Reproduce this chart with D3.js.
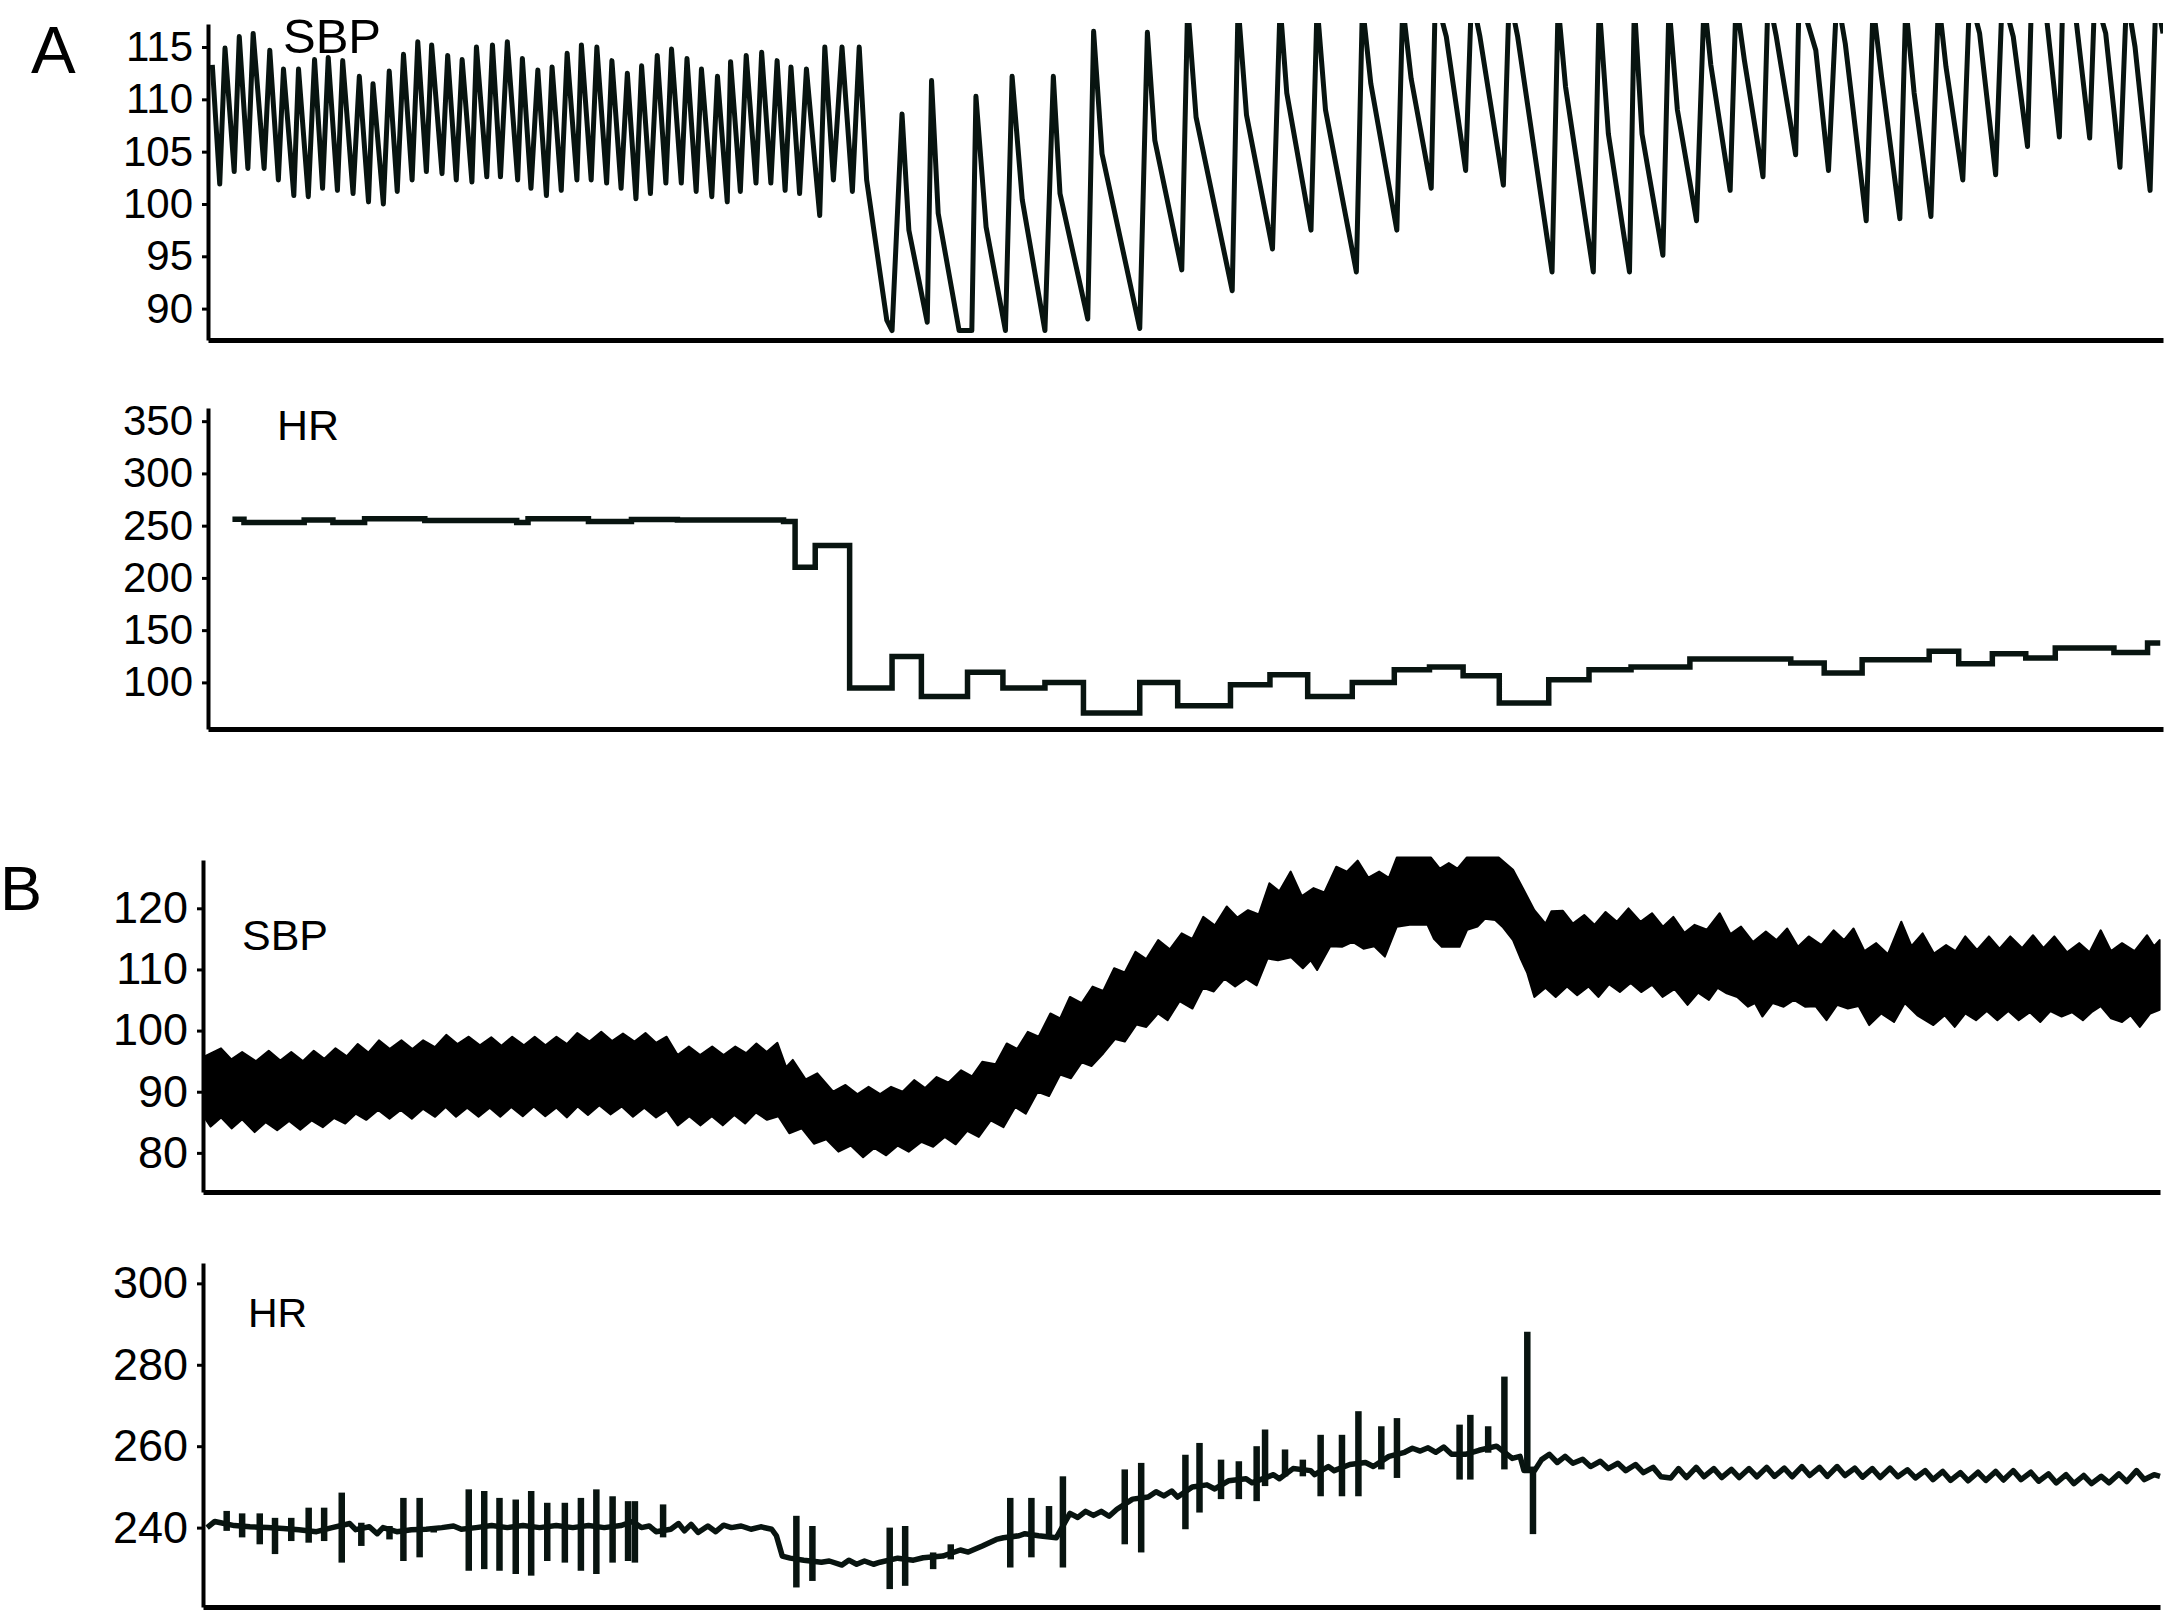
<!DOCTYPE html>
<html><head><meta charset="utf-8">
<script src="https://cdn.jsdelivr.net/npm/d3@7"></script>
<style>
body{margin:0;background:#fff}
svg{display:block}
text{font-family:"Liberation Sans",Arial,Helvetica,sans-serif;fill:#000}
</style>
</head><body>
<svg id="c" width="2167" height="1611"></svg>
<script>
// ---------- tick labels ----------
const aSbpTicks = [90, 95, 100, 105, 110, 115];
const aHrTicks  = [100, 150, 200, 250, 300, 350];
const bSbpTicks = [80, 90, 100, 110, 120];
const bHrTicks  = [240, 260, 280, 300];

// time axis (arbitrary units, no labels in source)
const timeDomain = [0, 1000];

// ---------- Panel A: SBP waveform (mmHg), [time, value] ----------
const aSbp = [[2.2,113.3],[6.0,101.9],[8.7,114.9],[13.4,103.1],[16.0,116.0],[20.4,103.4],[23.1,116.3],[28.7,103.4],[31.6,114.7],[36.0,102.3],[38.6,112.9],[43.9,100.8],[46.3,112.9],[51.3,100.7],[54.5,113.8],[58.6,101.5],[61.5,114.0],[66.2,101.3],[68.9,113.7],[74.2,101.0],[77.4,112.2],[82.1,100.2],[84.4,111.5],[89.7,100.0],[92.7,112.7],[96.8,101.2],[100.0,114.3],[104.4,102.3],[107.3,115.5],[111.7,103.1],[114.4,115.2],[119.7,102.9],[122.6,114.2],[127.0,102.3],[130.0,113.8],[135.0,102.1],[137.3,115.0],[142.6,102.6],[145.5,115.2],[149.6,102.6],[153.1,115.5],[158.4,102.3],[160.8,113.9],[165.2,101.5],[168.7,112.8],[173.1,100.8],[176.0,113.1],[180.7,101.3],[183.7,114.4],[188.7,102.3],[191.0,115.2],[196.0,102.3],[198.9,115.0],[203.9,102.0],[206.6,113.7],[211.3,101.5],[214.5,112.5],[218.9,100.5],[221.8,113.2],[226.3,101.0],[229.8,114.2],[234.2,102.0],[237.1,114.8],[242.1,102.0],[245.0,113.9],[249.7,101.2],[252.4,112.9],[257.7,100.7],[260.6,112.2],[265.6,100.2],[267.3,113.6],[272.3,101.2],[275.3,114.2],[280.3,102.0],[283.2,114.5],[287.9,102.0],[291.1,113.7],[295.2,101.3],[298.2,113.1],[302.6,101.0],[306.1,112.9],[312.9,98.9],[315.5,115.0],[319.9,102.3],[324.3,115.0],[329.6,101.2],[333.1,115.0],[336.9,102.3],[347.2,88.9],[349.9,87.9],
[355.0,108.6],[358.5,97.5],[367.9,88.7],[370.1,111.8],[373.5,99.1],[384.2,87.9],[390.7,87.9],[392.8,110.3],[398.0,97.8],[407.9,87.9],[411.3,112.2],[416.5,100.4],[428.1,87.9],[432.4,112.2],[435.8,101.0],[450.0,89.0],[453.0,116.5],[457.3,104.8],[476.6,88.1],[480.5,116.4],[484.3,106.1],[498.1,93.7],[501.1,119],[505.4,108.3],[523.9,91.7],[526.9,119],[531.2,108.5],[544.5,95.7],[548.4,119],[551.8,110.6],[564.2,97.5],[567.3,119],[571.6,109.0],[587.4,93.5],[590.5,119],[594.8,111.5],[608.1,97.5],[611.1,119],[615.4,112.0],[625.7,101.5],[627.8,120],[633.4,116.0],[643.3,103.2],[646.3,120],[650.6,116.0],[662.6,101.8],[665.6,120],[669.9,116.0],[687.5,93.5],[690.6,119],[694.4,111.2],[708.6,93.5],[711.6,119],[716.3,106.7],[727.1,93.5],[729.6,119],[733.5,106.7],[744.2,95.1],[747.3,119],[751.6,109.0],[761.4,98.4],[765.3,119.5],[768.7,113.3],[778.6,101.3],[781.6,119.5],[785.9,113.7],[795.4,102.6],[798.0,120],[802.2,116.0],[812.1,104.7],[813.9,120],[822.4,114.7],[828.9,103.2],[833.2,120],[837.5,115.3],[848.2,98.4],[851.7,119],[856.0,112.2],[865.4,98.6],[868.4,119],[872.7,110.6],[881.3,98.8],[885.2,119.5],[889.0,113.1],[897.6,102.3],[901.1,120],[906.2,116.3],[914.4,102.8],[917.8,120],[923.4,116.0],[930.7,105.5],[932.8,120],[940.6,117.5],[947.0,106.4],[948.8,120],[955.6,117.5],[962.5,106.3],[965.1,120],[970.7,116.3],[978.0,103.5],[981.4,120],[985.7,115.0],[993.4,101.3],[996.4,120],[1000.0,116.3]];

// ---------- Panel A: HR steps (bpm), [segment start time, value] ----------
const aHr = [[12.5,256.2],[18.4,253.0],[49.2,255.5],[63.9,253.0],[80.1,256.5],[110.9,255.0],[157.9,253.0],[163.7,256.5],[194.6,254.0],[216.6,256.0],[240.1,255.5],[294.4,254.0],[300.3,210.3],[310.6,231.0],[328.2,94.6],[349.9,124.9],[364.9,86.6],[388.5,109.6],[406.6,94.6],[428.1,100.0],[447.8,70.7],[476.6,100.0],[496.0,77.7],[523.0,97.8],[543.2,107.4],[562.5,86.6],[585.3,100.0],[606.8,112.1],[624.8,114.7],[642.0,106.4],[660.5,80.3],[685.8,102.6],[706.4,112.1],[727.9,114.7],[758.0,122.3],[809.6,118.5],[826.7,109.0],[846.1,121.7],[880.4,129.7],[895.5,117.9],[912.7,127.4],[929.8,123.3],[944.9,132.8],[974.9,128.7],[992.1,137.6],[998.6,137.6]];

// ---------- Panel B: SBP band, upper and lower envelopes ----------
const bSbpHi = [[0.3,95.7],[9.2,97.1],[14.5,95.3],[20.0,96.5],[27.0,95.0],[33.6,96.7],[39.5,95.1],[45.1,96.5],[51.0,95.0],[56.6,96.7],[62.0,95.4],[67.7,97.1],[73.5,95.8],[79.1,97.8],[84.5,96.4],[89.9,98.4],[95.5,97.0],[101.4,98.4],[107.0,97.0],[112.5,98.4],[118.5,97.3],[124.3,99.3],[130.0,97.8],[135.8,99.0],[141.5,97.6],[147.3,98.9],[152.5,97.5],[158.0,99.0],[164.0,97.6],[169.5,99.0],[175.0,97.6],[180.6,99.0],[186.0,97.8],[191.3,99.6],[197.5,98.2],[203.5,99.8],[209.0,98.3],[214.6,99.5],[220.5,98.2],[226.1,99.6],[231.5,98.0],[236.9,99.0],[242.5,96.0],[248.3,97.4],[254.0,96.0],[260.2,97.4],[266.0,96.0],[272.0,97.4],[277.5,96.3],[282.8,97.9],[288.0,96.5],[293.5,98.0],[298.0,94.0],[301.4,95.2],[308.0,92.0],[313.9,93.0],[322.0,90.0],[328.3,91.1],[334.5,89.6],[340.1,90.8],[346.0,89.6],[351.6,90.8],[357.5,90.0],[363.4,91.9],[369.0,90.6],[374.9,92.4],[381.0,91.5],[387.4,93.5],[393.0,92.5],[398.2,94.9],[405.0,94.5],[410.7,97.9],[416.0,97.0],[421.5,99.8],[427.0,99.0],[433.0,102.8],[438.0,102.0],[443.0,105.5],[449.0,104.5],[454.6,107.2],[460.0,106.5],[465.6,110.2],[471.0,109.5],[476.5,112.9],[482.0,111.7],[488.1,114.8],[494.0,113.3],[500.1,115.9],[505.5,115.0],[511.1,118.6],[517.0,117.2],[523.1,120.3],[528.5,118.5],[534.0,119.7],[539.5,119.0],[544.9,124.1],[550.0,122.8],[555.8,126.0],[561.5,122.0],[567.5,123.3],[573.0,122.6],[579.1,126.8],[584.5,126.0],[590.0,127.8],[595.5,125.0],[601.0,126.0],[606.0,125.0],[610.0,128.3],[627.5,128.3],[632.0,126.5],[636.6,127.4],[641.0,126.5],[645.7,128.3],[662.1,128.3],[669.4,126.3],[674.9,123.0],[680.3,119.7],[686.0,117.5],[689.0,119.5],[694.9,119.6],[700.0,117.5],[705.8,118.9],[711.0,117.3],[716.7,119.4],[722.5,117.8],[728.4,120.0],[734.5,117.8],[740.4,119.2],[746.0,117.0],[751.3,118.6],[757.0,116.0],[762.2,117.3],[768.5,116.5],[775.0,119.2],[780.5,115.8],[785.9,117.0],[792.0,114.5],[798.6,116.2],[804.0,114.8],[809.5,116.7],[815.0,113.7],[820.5,115.4],[827.0,114.0],[833.2,116.4],[838.5,114.8],[843.4,116.7],[849.0,113.0],[855.0,114.3],[861.0,112.5],[867.8,117.8],[873.0,113.8],[878.7,115.9],[884.5,112.6],[890.7,114.0],[895.5,113.0],[900.5,115.4],[906.5,113.2],[912.6,115.4],[918.0,113.4],[923.5,115.4],[929.5,113.5],[935.1,115.6],[940.5,113.5],[946.0,115.4],[952.5,112.8],[958.8,114.3],[964.0,112.8],[969.7,116.4],[975.0,113.0],[980.6,114.3],[987.0,113.0],[993.4,115.6],[997.0,113.8],[999.8,114.8]];

const bSbpLo = [[0.3,86.0],[3.9,84.3],[9.2,85.8],[14.6,84.0],[20.0,85.5],[26.4,83.4],[32.0,85.0],[37.9,83.7],[44.0,85.2],[49.7,83.8],[55.5,85.3],[61.2,84.2],[67.0,85.7],[72.7,84.8],[78.0,86.4],[83.4,85.4],[89.5,87.0],[95.3,85.6],[101.0,87.0],[106.7,85.6],[112.5,87.2],[118.6,85.9],[124.0,87.5],[129.3,85.9],[135.0,87.4],[140.8,85.9],[146.5,87.4],[151.9,85.9],[157.5,87.5],[163.4,86.0],[169.0,87.6],[174.9,86.0],[180.5,87.4],[186.0,85.8],[191.5,87.6],[196.7,86.2],[202.5,87.8],[208.2,86.3],[214.0,87.6],[219.7,85.9],[225.5,87.4],[231.5,85.8],[237.0,87.0],[242.6,84.5],[248.5,86.0],[254.1,84.5],[260.0,86.0],[265.6,84.5],[271.5,86.2],[277.0,84.8],[282.5,86.6],[288.2,85.4],[294.0,86.0],[299.6,83.2],[306.0,84.0],[312.2,81.5],[318.5,82.2],[324.7,80.2],[331.0,81.2],[337.3,79.3],[343.0,80.8],[349.1,79.6],[355.0,81.2],[360.6,80.2],[367.0,81.8],[373.1,81.0],[379.0,82.6],[384.6,81.4],[390.5,83.6],[396.4,82.6],[402.5,85.3],[409.0,84.2],[415.0,87.5],[420.4,86.4],[426.5,90.0],[432.3,89.3],[438.0,92.8],[443.5,92.2],[449.0,94.8],[454.0,94.2],[460.1,96.3],[466.0,98.6],[471.0,98.2],[477.0,101.0],[482.0,100.6],[488.0,102.8],[492.9,101.7],[499.0,104.8],[505.6,103.6],[511.0,107.0],[516.5,106.4],[522.0,108.5],[527.4,107.2],[533.0,108.5],[538.4,107.4],[544.0,111.8],[549.3,111.5],[556.0,112.0],[562.0,110.2],[566.0,111.5],[569.3,109.9],[576.0,113.8],[582.0,113.7],[587.5,114.5],[593.0,113.4],[598.5,113.8],[603.9,112.1],[610.0,117.0],[616.6,117.3],[625.7,117.3],[629.0,115.0],[633.0,113.7],[642.1,113.7],[646.0,116.5],[651.2,117.0],[655.0,118.3],[660.3,118.1],[664.0,117.0],[669.4,114.8],[673.0,112.0],[676.7,109.4],[680.3,105.5],[686.0,107.0],[691.2,105.5],[697.0,107.2],[702.2,105.8],[708.0,107.2],[713.1,105.5],[718.5,107.6],[724.0,106.3],[729.5,107.8],[734.9,106.3],[740.5,107.5],[745.8,105.5],[752.0,106.8],[758.6,104.2],[764.0,106.2],[769.5,105.0],[774.0,107.0],[778.6,106.1],[784.0,105.5],[789.5,103.9],[793.0,104.5],[796.8,102.3],[802.0,104.5],[807.7,103.9],[813.0,105.0],[818.6,103.9],[824.0,104.0],[829.6,101.7],[835.0,104.2],[840.5,103.6],[846.0,104.0],[851.4,100.9],[857.5,102.8],[864.1,101.4],[869.6,104.5],[876.0,102.5],[884.2,100.9],[890.0,102.5],[895.1,100.6],[900.5,102.8],[906.0,101.7],[911.5,103.2],[916.9,101.7],[922.5,103.2],[927.8,101.7],[933.5,103.0],[938.8,101.4],[944.0,103.2],[949.7,102.3],[955.0,103.0],[960.6,101.7],[965.0,103.0],[969.7,104.0],[975.0,102.0],[980.6,101.4],[985.0,102.5],[989.7,100.6],[995.0,102.8],[999.8,103.4]];

// ---------- Panel B: HR baseline (bpm), [time, value] ----------
const bHrBase = [[2.1,240.0],[6.0,241.5],[9.0,241.2],[16.0,240.5],[24.0,240.2],[33.0,240.0],[41.0,239.8],[49.0,239.5],[58.0,239.0],[66.0,240.0],[75.0,241.0],[78.0,239.5],[85.0,240.2],[89.0,238.5],[92.0,240.0],[99.0,239.0],[106.5,239.5],[114.0,239.6],[122.0,240.0],[128.0,240.4],[132.0,239.6],[139.5,240.0],[147.5,240.5],[155.5,240.0],[163.5,240.5],[172.0,240.0],[180.5,240.5],[189.0,240.0],[197.0,240.5],[205.0,240.0],[213.5,240.5],[219.5,241.5],[224.0,240.0],[228.0,240.4],[231.5,239.0],[239.0,239.6],[243.0,241.0],[246.0,239.2],[249.4,240.8],[253.0,238.8],[258.0,240.4],[262.0,239.0],[266.0,240.6],[270.0,240.0],[275.0,240.4],[280.0,239.6],[285.0,240.2],[290.6,239.6],[293.0,238.0],[296.0,233.0],[300.0,232.5],[307.0,232.0],[316.0,231.5],[320.0,231.8],[326.5,230.8],[330.0,232.0],[334.0,231.0],[338.0,231.8],[342.6,231.0],[346.0,231.5],[355.0,232.5],[363.0,232.0],[368.0,232.6],[378.0,233.0],[387.0,234.5],[391.0,234.0],[398.2,235.5],[405.4,237.1],[409.0,237.5],[417.0,238.0],[420.0,238.5],[427.0,238.0],[436.0,237.5],[443.0,243.5],[447.0,242.5],[451.0,244.0],[455.0,243.0],[459.0,244.0],[463.0,242.8],[467.0,244.5],[475.0,247.0],[483.0,247.5],[487.0,248.8],[491.0,247.8],[495.0,249.0],[498.0,247.5],[505.5,250.0],[513.0,250.5],[517.0,249.5],[524.0,251.5],[533.0,252.0],[536.0,251.0],[547.0,253.0],[550.0,252.0],[557.0,254.5],[566.0,254.0],[568.0,253.0],[575.0,255.0],[578.0,254.0],[586.0,255.5],[594.0,256.0],[598.0,255.0],[606.0,257.5],[614.0,258.5],[618.0,259.5],[622.0,258.8],[626.0,259.6],[630.0,258.5],[634.0,259.8],[638.0,258.0],[645.0,258.0],[652.0,259.0],[661.0,260.0],[669.0,257.0],[673.0,257.5],[675.0,254.0],[680.4,254.0],[684.0,256.7],[688.0,258.0],[692.0,256.0],[696.0,257.5],[700.0,255.8],[705.0,256.8],[709.0,255.0],[714.0,256.3],[718.0,254.5],[723.0,255.8],[727.0,254.0],[732.0,255.5],[736.0,253.5],[741.0,254.8],[745.0,252.5],[750.0,252.2],[754.0,254.5],[758.0,252.3],[763.0,254.8],[767.0,252.5],[772.0,254.5],[776.0,252.3],[781.0,254.3],[785.0,252.3],[790.0,254.5],[794.0,252.5],[799.0,254.8],[803.0,252.6],[808.0,254.6],[812.0,252.5],[817.0,255.0],[821.0,252.8],[826.0,254.8],[830.0,252.6],[835.0,255.0],[839.0,252.8],[844.0,254.6],[848.0,252.4],[853.0,254.5],[857.0,252.3],[862.0,254.6],[866.0,252.5],[871.0,254.2],[875.0,252.2],[880.0,254.0],[884.0,251.8],[889.0,253.8],[893.0,251.6],[898.0,253.5],[902.0,251.5],[907.0,253.6],[911.0,251.6],[916.0,253.8],[920.0,251.7],[925.0,254.0],[929.0,251.8],[934.0,253.6],[938.0,251.4],[943.0,253.2],[947.0,251.0],[952.0,253.0],[956.0,250.8],[961.0,252.8],[965.0,250.8],[970.0,252.6],[974.0,251.0],[979.0,253.2],[983.0,251.3],[988.0,254.0],[992.0,251.8],[997.0,253.0],[1000.0,252.6]];

// ---------- Panel B: HR spikes (bpm), [time, top, bottom] ----------
const bHrSpikes = [[12.1,244.1,239.2],[20.0,243.5,237.6],[29.0,243.5,235.9],[36.8,242.4,233.5],[45.1,242.4,236.7],[54.0,244.9,236.3],[61.9,244.9,236.7],[70.9,248.6,231.4],[80.9,241.2,235.5],[95.3,240.4,237.1],[102.4,247.3,231.8],[110.7,247.3,232.7],[117.9,240.4,238.8],[135.8,249.4,229.4],[143.7,249.0,229.8],[151.5,247.3,229.4],[159.8,246.9,228.6],[167.7,249.0,228.2],[175.9,246.1,231.8],[184.9,246.1,231.4],[193.1,247.3,229.4],[201.0,249.4,228.6],[209.3,247.7,231.4],[217.2,246.5,231.8],[220.7,246.5,231.4],[235.1,245.7,237.6],[303.2,242.9,225.3],[311.4,240.4,226.9],[350.9,240.0,224.9],[358.8,240.4,225.7],[373.1,233.9,229.8],[382.1,235.9,232.2],[412.5,247.3,230.2],[423.3,247.3,232.7],[432.3,245.3,238.0],[439.4,252.6,230.2],[471.0,254.3,235.9],[479.4,255.9,233.9],[502.0,257.9,239.6],[509.2,260.8,243.7],[520.2,256.7,247.0],[529.3,256.3,247.0],[538.4,260.0,246.5],[542.7,264.1,250.2],[552.9,259.2,252.6],[562.0,256.7,252.6],[571.1,262.8,247.7],[582.0,262.8,247.7],[590.4,268.6,247.7],[602.1,264.9,254.3],[610.1,266.9,252.2],[642.1,265.3,251.8],[647.6,267.7,251.8],[656.7,264.9,258.4],[665.0,277.1,254.3],[676.7,288.1,254.0],[679.6,255.0,238.4]];

// ---------- drawing ----------
const svg = d3.select("#c");
const ink = "#081410";

function panel(o) {
  const x = d3.scaleLinear().domain(timeDomain).range(o.xr);
  const y = d3.scaleLinear().domain(o.yd).range(o.yr);
  const g = svg.append("g");
  const xa = g.append("g").attr("transform", `translate(0,${o.yr[0]})`)
    .call(d3.axisBottom(x).tickValues([]).tickSizeOuter(0));
  xa.select(".domain").attr("stroke", "#000").attr("stroke-width", 5);
  const ya = g.append("g").attr("transform", `translate(${o.xr[0]},0)`)
    .call(d3.axisLeft(y).tickValues(o.ticks).tickSize(6).tickPadding(9).tickSizeOuter(0));
  ya.select(".domain").attr("stroke", "#000").attr("stroke-width", 4);
  ya.selectAll(".tick line").attr("stroke", "#000").attr("stroke-width", 3);
  ya.selectAll(".tick text")
    .style("font-family", '"Liberation Sans", Arial, Helvetica, sans-serif')
    .style("font-size", o.fs + "px").attr("fill", "#000");
  g.append("text").attr("x", o.lx).attr("y", o.ly)
    .style("font-size", o.lfs + "px").text(o.label);
  return {x, y, g};
}

// Panel A SBP
const p1 = panel({xr:[208,2163], yd:[87.0,117.2], yr:[340,24], ticks:aSbpTicks, fs:42,
  label:"SBP", lx:283, ly:53, lfs:49});
svg.append("clipPath").attr("id","clipA1").append("rect")
  .attr("x",p1.x.range()[0]).attr("y",p1.y.range()[1]-1)
  .attr("width",p1.x.range()[1]-p1.x.range()[0]).attr("height",p1.y.range()[0]-p1.y.range()[1]+1);
p1.g.append("path").datum(aSbp)
  .attr("clip-path","url(#clipA1)")
  .attr("fill","none").attr("stroke",ink).attr("stroke-width",5)
  .attr("stroke-linejoin","round")
  .attr("d", d3.line().x(d=>p1.x(d[0])).y(d=>p1.y(d[1])));

// Panel A HR
const p2 = panel({xr:[208,2163], yd:[55.4,362.6], yr:[729,408], ticks:aHrTicks, fs:42,
  label:"HR", lx:277, ly:440, lfs:43});
p2.g.append("path").datum(aHr)
  .attr("fill","none").attr("stroke",ink).attr("stroke-width",5.5)
  .attr("d", d3.line().curve(d3.curveStepAfter).x(d=>p2.x(d[0])).y(d=>p2.y(d[1])));

// Panel B SBP (dense band)
const p3 = panel({xr:[203,2160], yd:[73.6,127.9], yr:[1192,860], ticks:bSbpTicks, fs:45,
  label:"SBP", lx:242, ly:950, lfs:43});
const band = bSbpHi.concat(bSbpLo.slice().reverse());
p3.g.insert("path", ":first-child").datum(band)
  .attr("fill","#000").attr("stroke","#000").attr("stroke-width",2).attr("stroke-linejoin","round")
  .attr("d", d3.line().x(d=>p3.x(d[0])).y(d=>p3.y(d[1]))(band) + "Z");

// Panel B HR
const p4 = panel({xr:[203,2160], yd:[220.5,305], yr:[1607,1263], ticks:bHrTicks, fs:45,
  label:"HR", lx:248, ly:1327, lfs:41});
p4.g.append("path").datum(bHrBase)
  .attr("fill","none").attr("stroke",ink).attr("stroke-width",5.5)
  .attr("stroke-linejoin","round")
  .attr("d", d3.line().x(d=>p4.x(d[0])).y(d=>p4.y(d[1])));
p4.g.selectAll("line.spike").data(bHrSpikes).join("line").attr("class","spike")
  .attr("x1", d=>p4.x(d[0])).attr("x2", d=>p4.x(d[0]))
  .attr("y1", d=>p4.y(d[1])).attr("y2", d=>p4.y(d[2]))
  .attr("stroke", ink).attr("stroke-width", 6.5);

// panel letters
svg.append("text").attr("x",31).attr("y",73).style("font-size","67px").text("A");
svg.append("text").attr("x",0).attr("y",910).style("font-size","63px").text("B");
</script>
</body></html>
